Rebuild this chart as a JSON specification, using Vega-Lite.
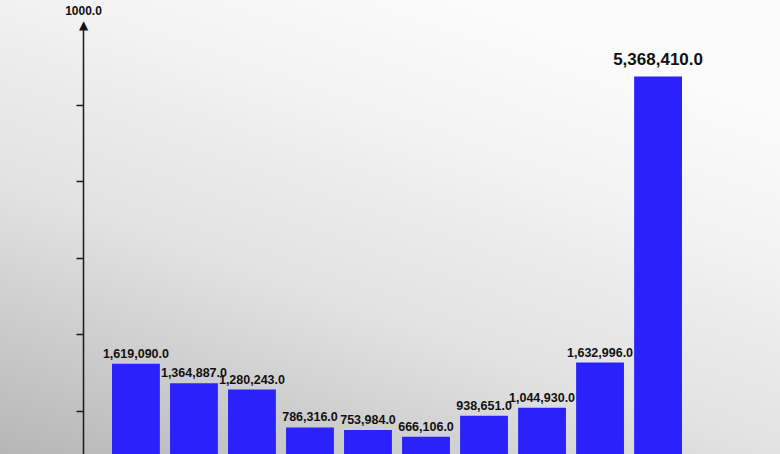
{
  "$schema": "https://vega.github.io/schema/vega-lite/v6.json",
  "width": 780,
  "height": 454,
  "padding": 0,
  "autosize": "none",
  "background": "#e6e6e6",
  "view": {
    "stroke": null,
    "fill": {
      "gradient": "linear",
      "x1": 0, "y1": 1, "x2": 0.6, "y2": 0,
      "stops": [
        {"offset": 0, "color": "#b6b6b6"},
        {"offset": 0.44, "color": "#e2e2e2"},
        {"offset": 0.65, "color": "#ececec"},
        {"offset": 0.75, "color": "#f2f2f2"},
        {"offset": 1, "color": "#fbfbfb"}
      ]
    }
  },
  "data": {
    "values": [
      {"item": "1", "value": 1619090},
      {"item": "2", "value": 1364887},
      {"item": "3", "value": 1280243},
      {"item": "4", "value": 786316},
      {"item": "5", "value": 753984},
      {"item": "6", "value": 666106},
      {"item": "7", "value": 938651},
      {"item": "8", "value": 1044930},
      {"item": "9", "value": 1632996},
      {"item": "10", "value": 5368410}
    ]
  },
  "encoding": {
    "x": {
      "field": "item",
      "type": "nominal",
      "sort": null,
      "scale": {"range": [83, 711], "paddingInner": 0.175, "paddingOuter": 0.5},
      "axis": null
    },
    "y": {
      "field": "value",
      "type": "quantitative",
      "scale": {"domain": [440000, 6000000], "range": [454, 28], "zero": false, "nice": false},
      "axis": {
        "offset": -83,
        "values": [1000000, 2000000, 3000000, 4000000, 5000000, 6000000],
        "labelExpr": "datum.value == 6000000 ? '▲' : ''",
        "labelFont": "DejaVu Sans",
        "labelFontSize": 12,
        "labelColor": "#111111",
        "labelAlign": "center",
        "labelBaseline": "alphabetic",
        "labelPadding": -7,
        "labelOverlap": false,
        "labelBound": false,
        "grid": false,
        "domainColor": "#1a1a1a",
        "domainWidth": 1.5,
        "tickColor": "#1a1a1a",
        "tickWidth": 1.5,
        "tickSize": 7,
        "tickOpacity": {"condition": {"test": "datum.value == 6000000", "value": 0}, "value": 1},
        "title": "1000.0",
        "titleAngle": 0,
        "titleX": 0,
        "titleY": 17,
        "titleAlign": "center",
        "titleBaseline": "bottom",
        "titleFont": "Liberation Sans, sans-serif",
        "titleFontSize": 12,
        "titleFontWeight": "bold",
        "titleColor": "#111111"
      }
    }
  },
  "layer": [
    {"mark": {"type": "bar", "color": "#2b22fb", "clip": true}},
    {
      "transform": [{"filter": "datum.value < 5000000"}],
      "mark": {
        "type": "text",
        "baseline": "alphabetic",
        "dy": -6,
        "font": "Liberation Sans, sans-serif",
        "fontSize": 12.5,
        "fontWeight": "bold",
        "color": "#111111"
      },
      "encoding": {"text": {"field": "value", "type": "quantitative", "format": ",.1f"}}
    },
    {
      "transform": [{"filter": "datum.value >= 5000000"}],
      "mark": {
        "type": "text",
        "baseline": "alphabetic",
        "dy": -11,
        "font": "Liberation Sans, sans-serif",
        "fontSize": 17,
        "fontWeight": "bold",
        "color": "#111111"
      },
      "encoding": {"text": {"field": "value", "type": "quantitative", "format": ",.1f"}}
    }
  ]
}
